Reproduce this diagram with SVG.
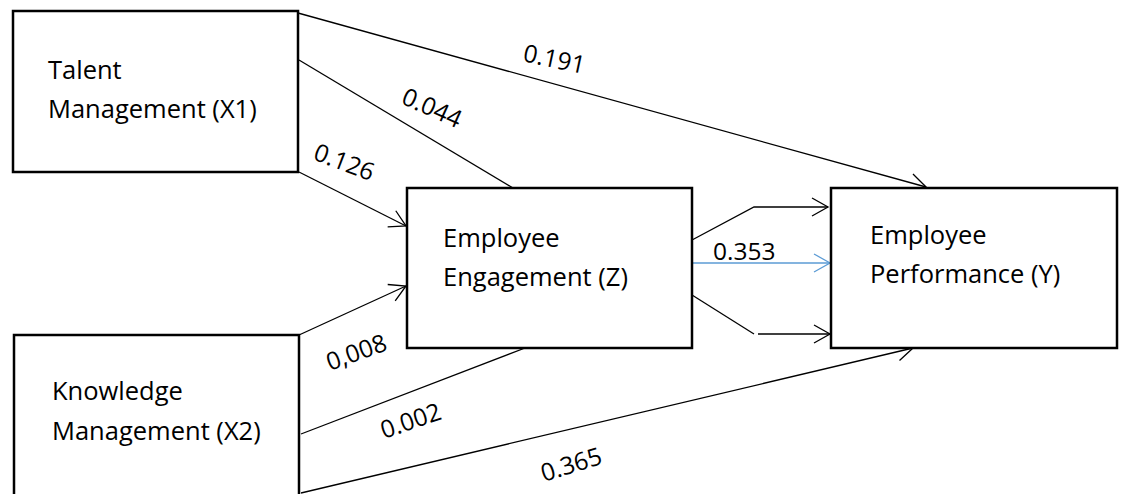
<svg xmlns="http://www.w3.org/2000/svg" width="1122" height="494" viewBox="0 0 1122 494">
  <style>
    .box { fill: #ffffff; stroke: #000000; stroke-width: 2.5; }
    .lbl { font-family: "Open Sans", "Noto Sans", sans-serif; font-size: 25.5px; fill: #000000; }
    .num { font-family: "Open Sans", "Noto Sans", sans-serif; font-size: 24.5px; fill: #000000; }
    .edge { fill: none; stroke: #000000; stroke-width: 1.3; }
    .edge.blue { stroke: #5B9BD5; }
  </style>
  <defs>
    <marker id="open" markerUnits="userSpaceOnUse" markerWidth="24" markerHeight="24" viewBox="-20 -12 24 24" refX="0" refY="0" orient="auto">
      <path d="M-16,-9 L0,0 L-16,9" fill="none" stroke="#000000" stroke-width="1.3"/>
    </marker>
    <marker id="openBlue" markerUnits="userSpaceOnUse" markerWidth="24" markerHeight="24" viewBox="-20 -12 24 24" refX="0" refY="0" orient="auto">
      <path d="M-16,-9 L0,0 L-16,9" fill="none" stroke="#5B9BD5" stroke-width="1.3"/>
    </marker>
  </defs>
  <rect width="1122" height="494" fill="#ffffff"/>

  <g id="connectors">
    <!-- Talent Management paths -->
    <line class="edge" x1="298" y1="13" x2="926" y2="187" marker-end="url(#open)"/>
    <line class="edge" x1="299" y1="60" x2="513" y2="188"/>
    <line class="edge" x1="299" y1="172" x2="406" y2="226" marker-end="url(#open)"/>
    <!-- Knowledge Management paths -->
    <line class="edge" x1="299" y1="335" x2="406" y2="286" marker-end="url(#open)"/>
    <line class="edge" x1="301" y1="434" x2="525" y2="348"/>
    <line class="edge" x1="301" y1="493" x2="913" y2="348" marker-end="url(#open)"/>
    <!-- Employee Engagement to Employee Performance -->
    <polyline class="edge" points="692,240 754,207 828,207" marker-end="url(#open)"/>
    <line class="edge blue" x1="692" y1="263" x2="830" y2="263" marker-end="url(#openBlue)"/>
    <line class="edge" x1="692" y1="295" x2="754" y2="334"/>
    <line class="edge" x1="758" y1="334" x2="830" y2="334" marker-end="url(#open)"/>

    <!-- path coefficients -->
    <text class="num" transform="translate(522,61) rotate(12)">0.191</text>
    <text class="num" transform="translate(400,103) rotate(24)">0.044</text>
    <text class="num" transform="translate(312,159) rotate(21)">0.126</text>
    <text class="num" transform="translate(330,371) rotate(-20)">0,008</text>
    <text class="num" transform="translate(384,439) rotate(-19)">0.002</text>
    <text class="num" transform="translate(544,482) rotate(-17.5)">0.365</text>
    <text class="num" x="713" y="260">0.353</text>
  </g>

  <g id="talent-management">
    <rect class="box" x="13" y="11" width="285" height="161"/>
    <text class="lbl" x="48" y="79">Talent</text>
    <text class="lbl" x="48" y="118">Management (X1)</text>
  </g>

  <g id="knowledge-management">
    <rect class="box" x="14" y="335" width="285" height="170"/>
    <text class="lbl" x="52" y="400">Knowledge</text>
    <text class="lbl" x="52" y="440">Management (X2)</text>
  </g>

  <g id="employee-engagement">
    <rect class="box" x="407" y="188" width="285" height="160"/>
    <text class="lbl" x="443" y="247">Employee</text>
    <text class="lbl" x="443" y="286">Engagement (Z)</text>
  </g>

  <g id="employee-performance">
    <rect class="box" x="831" y="188" width="286" height="160"/>
    <text class="lbl" x="870" y="244">Employee</text>
    <text class="lbl" x="870" y="283">Performance (Y)</text>
  </g>
</svg>
